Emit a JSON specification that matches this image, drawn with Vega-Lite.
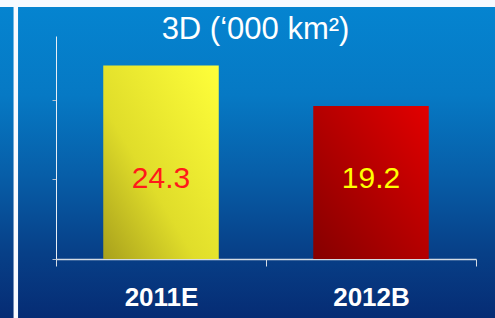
{
  "$schema": "https://vega.github.io/schema/vega-lite/v6.json",
  "width": 495,
  "height": 318,
  "autosize": {"type": "none"},
  "padding": 0,
  "background": "#ffffff",
  "title": {
    "text": "3D (‘000 km²)",
    "color": "#ffffff",
    "font": "Liberation Sans",
    "fontSize": 31,
    "fontWeight": "normal",
    "anchor": "middle",
    "frame": "group",
    "offset": -46,
    "dx": 8
  },
  "data": {
    "values": [
      {"year": "2011E", "value": 24.3},
      {"year": "2012B", "value": 19.2}
    ]
  },
  "layer": [
    {
      "encoding": {
        "x": {
          "field": "year",
          "type": "nominal",
          "scale": {"range": [56, 476], "paddingInner": 0, "paddingOuter": 0},
          "axis": {
            "orient": "bottom",
            "offset": -59,
            "tickBand": "extent",
            "tickSize": 7,
            "tickColor": "#d4dbe4",
            "domainColor": "#d4dbe4",
            "domainWidth": 1.5,
            "labelColor": "#ffffff",
            "labelFont": "Liberation Sans",
            "labelFontSize": 26,
            "labelFontWeight": "bold",
            "labelPadding": 18,
            "labelAngle": 0,
            "title": null,
            "grid": false
          }
        },
        "y": {
          "field": "value",
          "type": "quantitative",
          "scale": {"domain": [0, 28], "range": [259, 36], "nice": false, "zero": true},
          "axis": {
            "orient": "left",
            "offset": -56,
            "values": [0, 10, 20],
            "tickSize": 4,
            "tickColor": "#b8c2d0",
            "domainColor": "#e8eef5",
            "labels": false,
            "title": null,
            "grid": false
          }
        }
      },
      "layer": [
        {
          "transform": [{"filter": "datum.year === '2011E'"}],
          "mark": {
            "type": "bar",
            "width": {"band": 0.55},
            "color": {
              "gradient": "linear",
              "x1": 0, "y1": 1, "x2": 1, "y2": 0,
              "stops": [
                {"offset": 0, "color": "#a8a01c"},
                {"offset": 0.4, "color": "#e0dd2a"},
                {"offset": 1, "color": "#ffff3a"}
              ]
            }
          }
        },
        {
          "transform": [{"filter": "datum.year === '2012B'"}],
          "mark": {
            "type": "bar",
            "width": {"band": 0.55},
            "color": {
              "gradient": "linear",
              "x1": 0, "y1": 1, "x2": 1, "y2": 0,
              "stops": [
                {"offset": 0, "color": "#850000"},
                {"offset": 1, "color": "#e20000"}
              ]
            }
          }
        },
        {
          "mark": {
            "type": "text",
            "font": "Liberation Sans",
            "fontSize": 30,
            "baseline": "middle",
            "align": "center"
          },
          "encoding": {
            "y": {"datum": 10, "type": "quantitative"},
            "text": {"field": "value", "type": "quantitative", "format": ".1f"},
            "color": {
              "condition": {"test": "datum.year === '2011E'", "value": "#ff1a1a"},
              "value": "#ffff00"
            }
          }
        }
      ]
    },
    {
      "mark": {"type": "rule", "opacity": 0},
      "encoding": {
        "y": {
          "datum": 0,
          "type": "quantitative",
          "scale": {"domain": [0, 1]},
          "axis": {
            "orient": "left",
            "offset": -15.3,
            "domainColor": "#f7faff",
            "domainWidth": 4.5,
            "ticks": false,
            "labels": false,
            "title": null,
            "grid": false
          }
        }
      }
    }
  ],
  "resolve": {"scale": {"y": "independent"}, "axis": {"y": "independent"}},
  "config": {
    "view": {
      "stroke": null,
      "fill": {
        "gradient": "linear",
        "x1": 0, "y1": 0, "x2": 0, "y2": 1,
        "stops": [
          {"offset": 0, "color": "#f6faff"},
          {"offset": 0.021, "color": "#f6faff"},
          {"offset": 0.023, "color": "#0584d0"},
          {"offset": 0.3, "color": "#0679c4"},
          {"offset": 0.55, "color": "#075ea8"},
          {"offset": 0.8, "color": "#073f87"},
          {"offset": 1, "color": "#062c74"}
        ]
      }
    }
  }
}
